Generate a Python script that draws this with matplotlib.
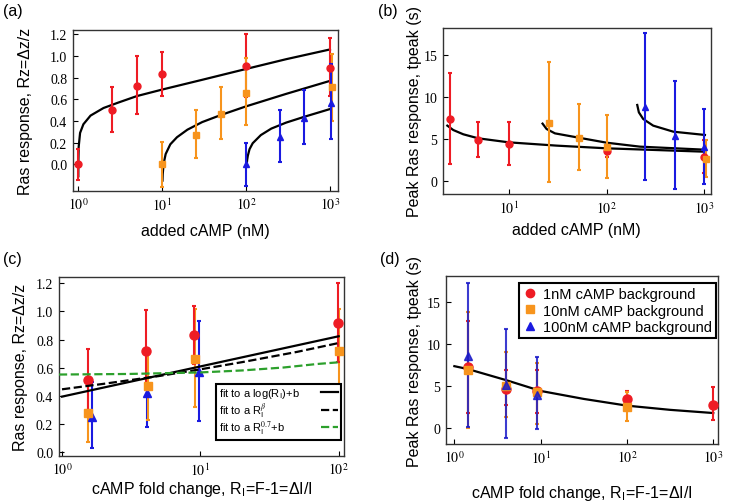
import numpy as np
import matplotlib
matplotlib.use("Agg")
import matplotlib.pyplot as plt
from matplotlib.ticker import FixedLocator, FuncFormatter, NullLocator
from matplotlib.lines import Line2D

plt.rcParams['font.family'] = ['Liberation Sans', 'DejaVu Sans']
plt.rcParams['mathtext.fontset'] = 'stix'

RED = '#ee1c24'
ORANGE = '#f7941d'
BLUE = '#1a1ae0'
GREEN = '#2ca02c'

# ---- (a) Ras response vs added cAMP ----
a_red_x = [1, 2.5, 5, 10, 100, 1000]
a_red_y = [0.0, 0.50, 0.72, 0.83, 0.91, 0.89]
a_red_lo = [-0.14, 0.30, 0.46, 0.63, 0.62, 0.63]
a_red_hi = [0.14, 0.71, 1.00, 1.04, 1.20, 1.17]

a_or_x = [10, 25, 50, 100, 1063]
a_or_y = [0.0, 0.27, 0.46, 0.66, 0.71]
a_or_lo = [-0.21, 0.06, 0.23, 0.36, 0.40]
a_or_hi = [0.21, 0.50, 0.71, 0.98, 1.02]

a_bl_x = [100, 256, 491, 1020]
a_bl_y = [0.0, 0.25, 0.43, 0.57]
a_bl_lo = [-0.20, 0.02, 0.19, 0.23]
a_bl_hi = [0.20, 0.50, 0.69, 0.93]

# fit curves
a_fit1_x = [1.0003, 1.002, 1.01, 1.05, 1.15, 1.4, 2.0, 3.0, 5, 10, 30, 100, 300, 1000]
a_fit1_y = [-0.11, 0.03, 0.16, 0.29, 0.37, 0.45, 0.52, 0.57, 0.63, 0.69, 0.78, 0.88, 0.97, 1.06]
a_fit2_x = [10.08, 10.15, 10.4, 11, 12.5, 15, 20, 30, 50, 100, 300, 1000]
a_fit2_y = [-0.15, -0.09, 0.005, 0.095, 0.185, 0.25, 0.32, 0.39, 0.455, 0.535, 0.65, 0.77]
a_fit3_x = [101.5, 102, 103, 105, 110, 120, 150, 200, 300, 500, 1000]
a_fit3_y = [-0.02, 0.006, 0.04, 0.08, 0.14, 0.195, 0.27, 0.33, 0.385, 0.44, 0.51]

# ---- (b) peak time vs added cAMP ----
b_red_x = [2.49, 4.85, 10, 100, 1000]
b_red_y = [7.38, 4.88, 4.40, 3.57, 2.90]
b_red_lo = [1.98, 2.82, 1.87, 2.90, 1.00]
b_red_hi = [12.8, 6.98, 6.98, 4.30, 4.88]

b_or_x = [25.5, 51.6, 100, 1050]
b_or_y = [6.94, 5.12, 4.05, 2.58]
b_or_lo = [-0.08, 1.31, 0.40, 0.48]
b_or_hi = [14.13, 9.17, 7.86, 4.88]

b_bl_x = [250, 497, 1000]
b_bl_y = [8.77, 5.36, 4.05]
b_bl_lo = [0.16, -0.99, -0.32]
b_bl_hi = [17.6, 11.94, 8.57]

b_fit1_x = [2.34, 2.69, 3.41, 4.85, 10, 30.8, 100, 1000]
b_fit1_y = [6.59, 6.07, 5.56, 5.08, 4.60, 4.21, 3.89, 3.49]
b_fit2_x = [22.1, 24.3, 29.6, 51.6, 100, 219, 1000]
b_fit2_y = [6.83, 6.19, 5.67, 5.16, 4.56, 4.09, 3.73]
b_fit3_x = [206, 214, 237, 300, 482, 1016]
b_fit3_y = [9.05, 8.17, 7.38, 6.59, 5.87, 5.48]

# ---- (c) Ras response vs fold change ----
c_red_x = [1.53, 4.05, 9.0, 98.9]
c_red_y = [0.51, 0.72, 0.83, 0.92]
c_red_lo = [0.30, 0.46, 0.63, 0.64]
c_red_hi = [0.73, 1.01, 1.04, 1.20]

c_or_x = [1.53, 4.2, 9.1, 100]
c_or_y = [0.28, 0.47, 0.66, 0.72]
c_or_lo = [0.07, 0.23, 0.32, 0.45]
c_or_hi = [0.50, 0.71, 1.02, 1.02]

c_bl_x = [1.64, 4.12, 9.7]
c_bl_y = [0.25, 0.42, 0.57]
c_bl_lo = [0.03, 0.18, 0.22]
c_bl_hi = [0.50, 0.69, 0.93]

c_log_x = [1, 100]
c_log_y = [0.395, 0.824]
c_pow_x = [1, 2, 5, 10, 20, 50, 100]
c_pow_y = [0.447, 0.486, 0.541, 0.589, 0.64, 0.713, 0.776]
c_p07_x = [0.95, 3, 10, 20, 40, 70, 100]
c_p07_y = [0.552, 0.556, 0.567, 0.581, 0.602, 0.627, 0.639]

# ---- (d) peak time vs fold change ----
d_red_x = [1.44, 3.94, 9.0, 99, 986]
d_red_y = [7.26, 4.72, 4.40, 3.49, 2.81]
d_red_lo = [1.83, 2.82, 1.87, 2.60, 0.99]
d_red_hi = [12.8, 6.98, 6.98, 4.40, 4.88]

d_or_x = [1.44, 3.94, 9.0, 99]
d_or_y = [6.98, 5.00, 4.30, 2.50]
d_or_lo = [0.0, 1.30, 0.50, 0.83]
d_or_hi = [13.9, 9.10, 7.80, 4.30]

d_bl_x = [1.44, 3.94, 9.0]
d_bl_y = [8.65, 5.20, 4.00]
d_bl_lo = [0.16, -1.15, -0.04]
d_bl_hi = [17.3, 11.8, 8.50]

d_fit_x = [1, 1.44, 3.94, 10, 31.6, 100, 316, 1000]
d_fit_y = [7.40, 7.05, 5.75, 4.45, 3.50, 2.70, 2.20, 1.82]

legend_labels = ['1nM cAMP background', '10nM cAMP background', '100nM cAMP background']


def draw_points(ax, x, y, lo, hi, color, marker, ms, alpha=1.0):
    y = np.array(y)
    err = [y - np.array(lo), np.array(hi) - y]
    ax.errorbar(x, y, yerr=err, fmt=marker, color=color, ms=ms, mec=color,
                elinewidth=1.5, capsize=1.6, capthick=1.5, alpha=alpha, zorder=3)


def style(ax, xdecades, ylim, yticks, ylabels, xlim):
    ax.set_xscale('log')
    ax.set_xlim(*xlim)
    ax.set_ylim(*ylim)
    ax.xaxis.set_major_locator(FixedLocator([10.0 ** d for d in xdecades]))
    ax.xaxis.set_minor_locator(NullLocator())
    ax.xaxis.set_major_formatter(FuncFormatter(lambda v, p: r'$10^{%d}$' % round(np.log10(v))))
    ax.set_yticks(yticks)
    ax.set_yticklabels(ylabels)
    ax.tick_params(direction='in', length=3.5, width=0.8, top=False, right=False,
                   labelsize=10, pad=4, labelfontfamily='Liberation Serif')
    for s in ax.spines.values():
        s.set_color('#333333')
        s.set_linewidth(1.0)


fig = plt.figure(figsize=(7.29, 5.02), dpi=100)

ax_a = fig.add_axes([0.0997, 0.6175, 0.3643, 0.3213])
ax_b = fig.add_axes([0.6073, 0.6110, 0.3676, 0.3319])
ax_c = fig.add_axes([0.0805, 0.0902, 0.3918, 0.3554])
ax_d = fig.add_axes([0.6118, 0.1135, 0.3731, 0.3341])

# (a)
for fx, fy in [(a_fit1_x, a_fit1_y), (a_fit2_x, a_fit2_y), (a_fit3_x, a_fit3_y)]:
    ax_a.plot(fx, fy, color='black', lw=1.6, zorder=2)
draw_points(ax_a, a_red_x, a_red_y, a_red_lo, a_red_hi, RED, 'o', 5)
draw_points(ax_a, a_or_x, a_or_y, a_or_lo, a_or_hi, ORANGE, 's', 4.2)
draw_points(ax_a, a_bl_x, a_bl_y, a_bl_lo, a_bl_hi, BLUE, '^', 4.5)
yt = [0.0, 0.2, 0.4, 0.6, 0.8, 1.0, 1.2]
style(ax_a, [0, 1, 2, 3], (-0.246, 1.242), yt, ['%.1f' % v for v in yt], (0.857, 1256))
ax_a.set_xlabel('added cAMP (nM)', fontsize=11.5)
ax_a.set_ylabel('Ras response, Rz=Δz/z', fontsize=11.5)
ax_a.xaxis.set_label_coords(0.5, -0.198)
ax_a.yaxis.set_label_coords(-0.148, 0.5)

# (b)
for fx, fy in [(b_fit1_x, b_fit1_y), (b_fit2_x, b_fit2_y), (b_fit3_x, b_fit3_y)]:
    ax_b.plot(fx, fy, color='black', lw=1.6, zorder=2)
draw_points(ax_b, b_red_x, b_red_y, b_red_lo, b_red_hi, RED, 'o', 5)
draw_points(ax_b, b_or_x, b_or_y, b_or_lo, b_or_hi, ORANGE, 's', 4.2)
draw_points(ax_b, b_bl_x, b_bl_y, b_bl_lo, b_bl_hi, BLUE, '^', 4.5)
style(ax_b, [1, 2, 3], (-1.58, 18.25), [0, 5, 10, 15], ['0', '5', '10', '15'], (2.1, 1164))
ax_b.set_xlabel('added cAMP (nM)', fontsize=11.5)
ax_b.set_ylabel('Peak Ras response, tpeak (s)', fontsize=11.5)
ax_b.xaxis.set_label_coords(0.5, -0.164)
ax_b.yaxis.set_label_coords(-0.078, 0.5)

# (c)
draw_points(ax_c, c_bl_x, c_bl_y, c_bl_lo, c_bl_hi, BLUE, '^', 6)
draw_points(ax_c, c_or_x, c_or_y, c_or_lo, c_or_hi, ORANGE, 's', 5.3)
draw_points(ax_c, c_red_x, c_red_y, c_red_lo, c_red_hi, RED, 'o', 6.5)
l1, = ax_c.plot(c_log_x, c_log_y, color='black', lw=1.6, zorder=4)
l2, = ax_c.plot(c_pow_x, c_pow_y, color='black', lw=1.6, ls='--', zorder=4)
l3, = ax_c.plot(c_p07_x, c_p07_y, color=GREEN, lw=1.6, ls='--', zorder=4)
style(ax_c, [0, 1, 2], (-0.025, 1.243), yt, ['%.1f' % v for v in yt], (0.946, 109.8))
ax_c.set_xlabel(r'cAMP fold change, R$_\mathregular{I}$=F-1=ΔI/I', fontsize=11.5)
ax_c.set_ylabel('Ras response, Rz=Δz/z', fontsize=11.5)
ax_c.xaxis.set_label_coords(0.5, -0.131)
ax_c.yaxis.set_label_coords(-0.106, 0.5)
leg_c = ax_c.legend([l1, l2, l3],
                    [r'fit to a log(R$_\mathregular{I}$)+b',
                     r'fit to a R$_\mathregular{I}^{\beta}$',
                     r'fit to a R$_\mathregular{I}^{0.7}$+b'],
                    loc='lower right', bbox_to_anchor=(0.988, 0.088), borderaxespad=0,
                    fontsize=8, markerfirst=False, handlelength=1.5, handletextpad=0.8,
                    borderpad=0.25, labelspacing=0.0, fancybox=False, framealpha=1)
leg_c.get_frame().set_edgecolor('black')
leg_c.get_frame().set_linewidth(1.5)
# left-align the texts and push the handles to the right edge
for col in leg_c._legend_handle_box.get_children():
    col.width = 119
    for row in col.get_children():
        row.mode = 'expand'

# (d)
ax_d.plot(d_fit_x, d_fit_y, color='black', lw=1.6, zorder=2)
draw_points(ax_d, d_red_x, d_red_y, d_red_lo, d_red_hi, RED, 'o', 6.5)
draw_points(ax_d, d_or_x, d_or_y, d_or_lo, d_or_hi, ORANGE, 's', 5.5)
draw_points(ax_d, d_bl_x, d_bl_y, d_bl_lo, d_bl_hi, '#1a1ac8', '^', 6, alpha=0.85)
style(ax_d, [0, 1, 2, 3], (-1.87, 18.1), [0, 5, 10, 15], ['0', '5', '10', '15'], (0.80, 1135))
ax_d.set_xlabel(r'cAMP fold change, R$_\mathregular{I}$=F-1=ΔI/I', fontsize=11.5)
ax_d.set_ylabel('Peak Ras response, tpeak (s)', fontsize=11.5)
ax_d.xaxis.set_label_coords(0.5, -0.235)
ax_d.yaxis.set_label_coords(-0.089, 0.5)
handles = [Line2D([], [], ls='none', marker='o', color=RED, ms=6),
           Line2D([], [], ls='none', marker='s', color=ORANGE, ms=5.5),
           Line2D([], [], ls='none', marker='^', color=BLUE, ms=5.5)]
leg_d = ax_d.legend(handles, legend_labels, loc='upper right', bbox_to_anchor=(0.993, 0.96),
                    borderaxespad=0, fontsize=10.5, handlelength=0.8, handletextpad=0.5,
                    borderpad=0.3, labelspacing=0.15, fancybox=False, framealpha=1)
leg_d.get_frame().set_edgecolor('black')
leg_d.get_frame().set_linewidth(1.5)

# panel letters
for lab, x, y in [('(a)', 3, 4), ('(b)', 378, 4), ('(c)', 3, 252), ('(d)', 380, 252)]:
    fig.text(x / 729, 1 - y / 502, lab, fontsize=11.5, va='top', ha='left')

fig.savefig('out.png', dpi=100)
